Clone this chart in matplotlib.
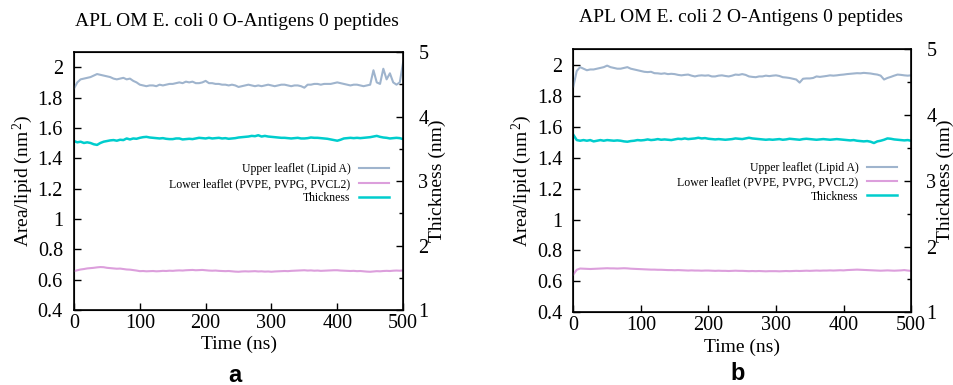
import matplotlib as mpl
mpl.use('Agg')
import matplotlib.pyplot as plt
import numpy as np

plt.rcParams.update({
    "font.family": "Liberation Serif",
    "mathtext.fontset": "custom",
    "mathtext.rm": "Liberation Serif",
    "mathtext.it": "Liberation Serif:italic",
})

# time axis, sampled every 5 ns
time_ns = np.arange(0, 505, 5)

# panel a: 0 O-antigens
a_upper = [1.86, 1.90, 1.92, 1.925, 1.93, 1.935, 1.945, 1.955, 1.95, 1.945,
           1.94, 1.935, 1.925, 1.92, 1.925, 1.93, 1.92, 1.925, 1.91, 1.90,
           1.885, 1.88, 1.875, 1.88, 1.88, 1.875, 1.885, 1.88, 1.885, 1.89,
           1.89, 1.895, 1.90, 1.895, 1.905, 1.90, 1.905, 1.895, 1.895, 1.90,
           1.91, 1.895, 1.895, 1.89, 1.89, 1.885, 1.885, 1.88, 1.885, 1.88,
           1.87, 1.875, 1.88, 1.885, 1.88, 1.875, 1.88, 1.875, 1.88, 1.885,
           1.88, 1.875, 1.88, 1.885, 1.885, 1.88, 1.875, 1.88, 1.88, 1.875,
           1.865, 1.885, 1.885, 1.89, 1.89, 1.885, 1.89, 1.89, 1.89, 1.895,
           1.90, 1.895, 1.89, 1.885, 1.88, 1.885, 1.885, 1.88, 1.875, 1.88,
           1.885, 1.98, 1.90, 1.89, 1.99, 1.92, 1.96, 1.90, 1.885, 1.90, 2.03]
a_lower = [0.656, 0.662, 0.667, 0.670, 0.674, 0.676, 0.678, 0.681, 0.683, 0.682,
           0.678, 0.676, 0.674, 0.672, 0.673, 0.670, 0.667, 0.666, 0.663, 0.660,
           0.656, 0.657, 0.655, 0.656, 0.657, 0.655, 0.656, 0.658, 0.657, 0.659,
           0.658, 0.660, 0.661, 0.660, 0.662, 0.663, 0.664, 0.662, 0.663, 0.664,
           0.662, 0.660, 0.659, 0.660, 0.658, 0.657, 0.656, 0.657, 0.655, 0.653,
           0.652, 0.654, 0.655, 0.654, 0.655, 0.656, 0.654, 0.655, 0.653, 0.654,
           0.652, 0.654, 0.655, 0.656, 0.657, 0.656, 0.658, 0.659, 0.660, 0.661,
           0.662, 0.660, 0.661, 0.659, 0.660, 0.658, 0.659, 0.660, 0.661, 0.662,
           0.662, 0.660, 0.659, 0.658, 0.657, 0.658, 0.656, 0.657, 0.655, 0.653,
           0.652, 0.654, 0.656, 0.655, 0.657, 0.658, 0.657, 0.659, 0.660, 0.659, 0.661]
a_thick = [3.62, 3.60, 3.61, 3.59, 3.60, 3.59, 3.57, 3.56, 3.59, 3.61,
           3.62, 3.63, 3.635, 3.625, 3.64, 3.635, 3.66, 3.645, 3.66, 3.655,
           3.67, 3.68, 3.685, 3.675, 3.67, 3.665, 3.66, 3.665, 3.655, 3.65,
           3.65, 3.66, 3.66, 3.645, 3.65, 3.655, 3.65, 3.66, 3.67, 3.665,
           3.66, 3.67, 3.66, 3.665, 3.67, 3.66, 3.665, 3.655, 3.66, 3.665,
           3.675, 3.68, 3.685, 3.69, 3.70, 3.695, 3.71, 3.69, 3.70, 3.69,
           3.685, 3.68, 3.675, 3.67, 3.67, 3.665, 3.66, 3.665, 3.67, 3.66,
           3.66, 3.665, 3.675, 3.67, 3.67, 3.665, 3.66, 3.655, 3.645, 3.635,
           3.625, 3.64, 3.66, 3.665, 3.67, 3.665, 3.67, 3.665, 3.67, 3.675,
           3.68, 3.69, 3.70, 3.685, 3.675, 3.67, 3.66, 3.665, 3.67, 3.665, 3.65]

# panel b: 2 O-antigens
b_upper = [1.86, 1.96, 1.985, 1.975, 1.965, 1.97, 1.97, 1.975, 1.98, 1.985,
           1.995, 1.985, 1.98, 1.975, 1.975, 1.98, 1.985, 1.975, 1.97, 1.965,
           1.96, 1.955, 1.953, 1.955, 1.946, 1.945, 1.942, 1.945, 1.94, 1.942,
           1.94, 1.935, 1.932, 1.935, 1.937, 1.93, 1.925, 1.93, 1.932, 1.93,
           1.932, 1.925, 1.925, 1.93, 1.932, 1.928, 1.925, 1.93, 1.937, 1.935,
           1.94, 1.935, 1.925, 1.922, 1.92, 1.925, 1.925, 1.93, 1.927, 1.93,
           1.932, 1.928, 1.92, 1.918, 1.915, 1.91, 1.905, 1.885, 1.91, 1.912,
           1.912, 1.915, 1.925, 1.922, 1.925, 1.928, 1.932, 1.93, 1.932, 1.935,
           1.937, 1.94, 1.942, 1.944, 1.946, 1.945, 1.948, 1.946, 1.944, 1.94,
           1.937, 1.93, 1.905, 1.915, 1.922, 1.93, 1.937, 1.935, 1.932, 1.93, 1.932]
b_lower = [0.645, 0.675, 0.683, 0.682, 0.681, 0.680, 0.681, 0.682, 0.683, 0.684,
           0.685, 0.684, 0.684, 0.683, 0.684, 0.685, 0.684, 0.682, 0.681, 0.680,
           0.679, 0.678, 0.677, 0.676, 0.676, 0.675, 0.675, 0.674, 0.673, 0.673,
           0.672, 0.673, 0.672, 0.671, 0.670, 0.671, 0.670, 0.670, 0.669, 0.670,
           0.670, 0.669, 0.668, 0.669, 0.668, 0.668, 0.667, 0.668, 0.669, 0.668,
           0.668, 0.667, 0.666, 0.667, 0.666, 0.667, 0.666, 0.665, 0.666, 0.666,
           0.666, 0.665, 0.666, 0.667, 0.666, 0.667, 0.668, 0.667, 0.668, 0.669,
           0.668, 0.669, 0.670, 0.669, 0.670, 0.670, 0.671, 0.670, 0.671, 0.672,
           0.671, 0.673, 0.674, 0.675, 0.676, 0.675, 0.674, 0.673, 0.672, 0.671,
           0.670, 0.669, 0.670, 0.671, 0.670, 0.669, 0.670, 0.671, 0.673, 0.670, 0.668]
b_thick = [3.70, 3.62, 3.61, 3.62, 3.61, 3.62, 3.60, 3.61, 3.62, 3.61,
           3.62, 3.615, 3.61, 3.615, 3.61, 3.60, 3.595, 3.605, 3.61, 3.62,
           3.615, 3.62, 3.63, 3.62, 3.625, 3.635, 3.625, 3.63, 3.625, 3.62,
           3.63, 3.64, 3.635, 3.645, 3.635, 3.64, 3.645, 3.655, 3.645, 3.65,
           3.64, 3.635, 3.63, 3.635, 3.63, 3.625, 3.63, 3.635, 3.645, 3.64,
           3.635, 3.645, 3.655, 3.645, 3.64, 3.635, 3.63, 3.625, 3.63, 3.625,
           3.63, 3.635, 3.625, 3.63, 3.64, 3.635, 3.63, 3.625, 3.635, 3.64,
           3.635, 3.63, 3.625, 3.63, 3.635, 3.63, 3.625, 3.63, 3.635, 3.63,
           3.625, 3.62, 3.615, 3.62, 3.61, 3.605, 3.60, 3.605, 3.595, 3.575,
           3.60, 3.61, 3.625, 3.645, 3.64, 3.63, 3.625, 3.62, 3.615, 3.62, 3.61]

titles = ["APL OM E. coli 0 O-Antigens 0 peptides",
          "APL OM E. coli 2 O-Antigens 0 peptides"]
panel_letters = ["a", "b"]
legend_labels = ["Upper leaflet (Lipid A)",
                 "Lower leaflet (PVPE, PVPG, PVCL2)",
                 "Thickness"]

c_upper = "#9fb4cd"
c_lower = "#dc9fdc"
c_thick = "#00cdcd"

fig = plt.figure(figsize=(9.54, 3.85), dpi=100)

rects = [[0.0776, 0.1948, 0.3449, 0.670],
         [0.601, 0.1888, 0.354, 0.683]]
series = [(a_upper, a_lower, a_thick), (b_upper, b_lower, b_thick)]
title_pos = [(237, 22), (741, 18)]
letter_pos = [(235, 375), (738, 373)]
legend_anchor = [(0.957, 0.568), (0.958, 0.572)]

for i in range(2):
    ax = fig.add_axes(rects[i])
    ax2 = ax.twinx()
    upper, lower, thick = series[i]

    l1, = ax.plot(time_ns, upper, color=c_upper, lw=1.5)
    l2, = ax.plot(time_ns, lower, color=c_lower, lw=1.5)
    l3, = ax2.plot(time_ns, thick, color=c_thick, lw=1.8)

    ax.set_xlim(0, 500)
    ax.set_ylim(0.4, 2.1)
    ax2.set_ylim(1, 5)
    ax.set_xticks([0, 100, 200, 300, 400, 500])
    ax.set_yticks([0.4, 0.6, 0.8, 1.0, 1.2, 1.4, 1.6, 1.8, 2.0])
    ax.set_yticklabels(["0.4", "0.6", "0.8", "1", "1.2", "1.4", "1.6", "1.8", "2"])
    ax2.set_yticks([1, 2, 3, 4, 5])
    ax2.set_yticks(np.arange(1.5, 5, 1.0), minor=True)

    ax.tick_params(axis="x", direction="in", length=5, width=1, labelsize=14.5,
                   pad=3, top=False)
    ax.tick_params(axis="y", direction="in", length=5, width=1, labelsize=14.5,
                   pad=8, right=False)
    ax2.tick_params(axis="y", which="major", direction="in", length=5, width=1,
                    labelsize=14.5, pad=11)
    ax2.tick_params(axis="y", which="minor", direction="in", length=3, width=1)
    for sp in ax.spines.values():
        sp.set_linewidth(1.2)

    ax.set_xlabel("Time (ns)", fontsize=14, labelpad=2)
    ax.set_ylabel(r"Area/lipid (nm$^{\,2}$)", fontsize=14, labelpad=2)
    ax2.set_ylabel("Thickness (nm)", fontsize=14, labelpad=0)

    leg = ax.legend([l1, l2, l3], legend_labels, loc="upper right",
                    bbox_to_anchor=legend_anchor[i], frameon=False,
                    markerfirst=False, fontsize=8.5, handlelength=2.5,
                    handletextpad=0.75, labelspacing=0.2, borderpad=0,
                    borderaxespad=0)
    # right-align the legend rows like gnuplot
    for col in leg._legend_box.get_children()[1].get_children():
        col.align = "right"
    ax2.set_zorder(ax.get_zorder() - 1)
    ax.patch.set_visible(False)

    fig.text(title_pos[i][0] / 954, 1 - title_pos[i][1] / 385, titles[i],
             ha="center", va="center", fontsize=14)
    fig.text(letter_pos[i][0] / 954, 1 - letter_pos[i][1] / 385, panel_letters[i],
             ha="center", va="center", fontsize=17, fontweight="bold",
             family="Liberation Sans")

fig.savefig("out.png", dpi=100)
